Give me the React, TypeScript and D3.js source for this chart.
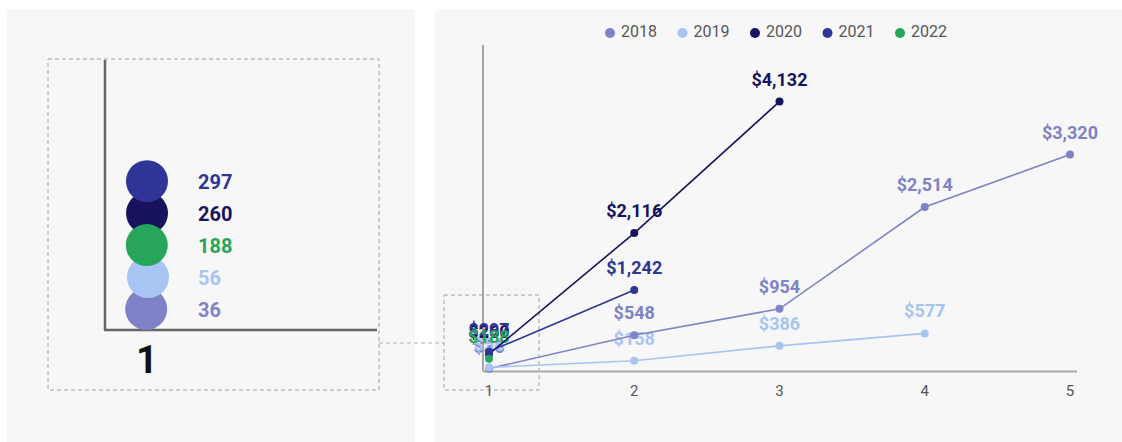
import React, { useMemo } from 'react';
import * as d3 from 'd3';

// ---- data ----
const years = ['2018', '2019', '2020', '2021', '2022'];
const seriesColors = ['#7f82c6', '#a7c4f2', '#17135e', '#2f3596', '#27a55b'];
const xTicks = [1, 2, 3, 4, 5];
const v2018 = [36, 548, 954, 2514, 3320];
const v2019 = [56, 158, 386, 577];
const v2020 = [260, 2116, 4132];
const v2021 = [297, 1242];
const v2022 = [188];
const seriesValues = [v2018, v2019, v2020, v2021, v2022];
const insetTickLabel = '1';

const W = 1122;
const H = 442;
const FONT = 'Roboto, "Noto Sans", sans-serif';

export default function App() {
  // main chart scales
  const x = d3.scaleLinear().domain([1, 5]).range([489, 1070]);
  const y = d3.scaleLinear().domain([0, 5000]).range([371, 45]);
  const line = d3
    .line<number>()
    .x((_, i) => x(i + 1))
    .y((d) => y(d));
  const fmt = d3.format('$,');
  const legendX = d3.scalePoint<string>().domain(years).range([610, 900]);

  // inset: first values of each series, laid out with a force simulation (beeswarm)
  const insetR = 21;
  const insetAxisY = 330;
  const insetY = d3.scaleLinear().domain([0, 300]).range([340, 192]);
  const { insetNodes, labelNodes } = useMemo(() => {
    const firsts = seriesValues.map((vals) => vals[0]);
    const ranked = firsts.map((_, i) => i).sort((a, b) => firsts[b] - firsts[a]);
    const nodes: any[] = seriesValues.map((vals, i) => {
      const rank = ranked.indexOf(i);
      return { i, value: vals[0], x: 147 + (rank % 2 === 0 ? 2 : -2), y: insetY(vals[0]) };
    });
    const floor = insetAxisY - insetR;
    const sim = d3
      .forceSimulation(nodes)
      .force('x', d3.forceX(147).strength(0.3))
      .force('y', d3.forceY((d: any) => insetY(d.value)).strength(0.15))
      .force('c', d3.forceCollide(16).strength(0.7))
      .stop();
    for (let k = 0; k < 300; k++) {
      sim.tick();
      nodes.forEach((n) => {
        if (n.y > floor) n.y = floor;
      });
    }
    const labels: any[] = nodes.map((n) => ({ i: n.i, value: n.value, x: 0, fx: 0, y: n.y + 3, ty: n.y + 3 }));
    const lsim = d3
      .forceSimulation(labels)
      .force('y', d3.forceY((d: any) => d.ty).strength(0.3))
      .force('c', d3.forceCollide(13.5))
      .stop();
    for (let k = 0; k < 200; k++) lsim.tick();
    return { insetNodes: nodes, labelNodes: labels };
  }, []);
  const insetOrder = [0, 2, 1, 3, 4];

  return (
    <svg
      width={W}
      height={H}
      style={{ position: 'absolute', left: 0, top: 0, background: '#ffffff' }}
      fontFamily={FONT}
    >
      {/* panels */}
      <rect x={7} y={9} width={408} height={H - 9} fill="#f7f7f7" />
      <rect x={435} y={9} width={W - 435} height={H - 9} fill="#f7f7f7" />

      {/* ---- inset (left) ---- */}
      <rect x={48} y={59} width={331} height={331} fill="none" stroke="#a0a0a0" strokeDasharray="4 3" />
      <line x1={105} x2={105} y1={60} y2={insetAxisY} stroke="#666" strokeWidth={2.5} />
      <line x1={104} x2={377} y1={insetAxisY} y2={insetAxisY} stroke="#666" strokeWidth={2.5} />
      <text x={147} y={373} textAnchor="middle" fontSize={38} fontWeight={700} fill="#111">
        {insetTickLabel}
      </text>
      {insetOrder.map((idx) => {
        const n = insetNodes[idx];
        return <circle key={idx} cx={n.x} cy={n.y} r={insetR} fill={seriesColors[n.i]} />;
      })}
      {labelNodes.map((n) => (
        <text
          key={n.i}
          x={198}
          y={n.y}
          dominantBaseline="middle"
          fontSize={20}
          fontWeight={700}
          fill={seriesColors[n.i]}
        >
          {n.value}
        </text>
      ))}

      {/* connector & zoom box */}
      <line x1={379} x2={444} y1={343} y2={343} stroke="#b0b0b0" strokeDasharray="4 3" />
      <rect x={444} y={295} width={95} height={95} fill="none" stroke="#a0a0a0" strokeDasharray="4 3" />

      {/* ---- main chart ---- */}
      <line x1={483} x2={483} y1={45} y2={371} stroke="#888" strokeWidth={1.5} />
      <line x1={483} x2={1077} y1={371.5} y2={371.5} stroke="#aaa" strokeWidth={2} />
      {xTicks.map((t) => (
        <text key={t} x={x(t)} y={392} textAnchor="middle" dominantBaseline="middle" fontSize={15} fill="#555">
          {t}
        </text>
      ))}

      {/* labels */}
      {seriesValues.map((vals, si) =>
        vals.map((v, i) => (
          <text
            key={`${si}-${i}`}
            x={x(i + 1)}
            y={y(v) - 16}
            textAnchor="middle"
            fontSize={18}
            fontWeight={700}
            fill={seriesColors[si]}
          >
            {fmt(v)}
          </text>
        ))
      )}

      {/* lines and dots */}
      {seriesValues.map((vals, si) => (
        <g key={si}>
          <path d={line(vals) || ''} fill="none" stroke={seriesColors[si]} strokeWidth={1.6} />
          {vals.map((v, i) => (
            <circle key={i} cx={x(i + 1)} cy={y(v)} r={4} fill={seriesColors[si]} />
          ))}
        </g>
      ))}

      {/* legend */}
      {years.map((yr, i) => (
        <g key={yr} transform={`translate(${legendX(yr)},33)`}>
          <circle r={5} fill={seriesColors[i]} />
          <text x={11} dominantBaseline="middle" fontSize={16} fill="#555">
            {yr}
          </text>
        </g>
      ))}
    </svg>
  );
}
